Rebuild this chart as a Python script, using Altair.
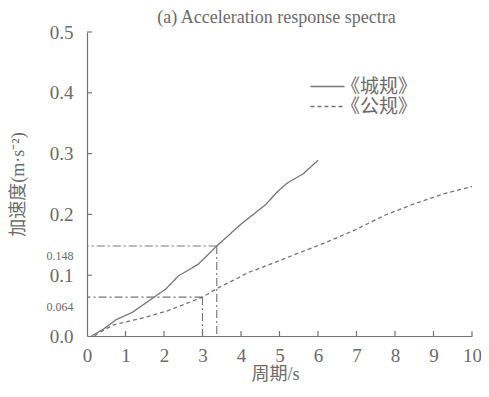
import altair as alt
import pandas as pd

FONT = "Liberation Serif, Noto Sans CJK SC"
GRAY = "#747474"
TXT = "#6a6a6a"

names = ["《城规》", "《公规》"]

# 《城规》 curve
T_city = [0.12, 0.2, 0.42, 0.76, 1.18, 1.70, 2.04, 2.38, 2.89, 3.37, 4.0, 4.64, 4.94, 5.19, 5.62, 6.0]
A_city = [0.0, 0.003, 0.011, 0.027, 0.039, 0.062, 0.077, 0.099, 0.118, 0.148, 0.184, 0.216, 0.237, 0.251, 0.267, 0.289]
# 《公规》 curve
T_hwy = [0.2, 0.25, 0.67, 1.53, 2.12, 3.0, 3.40, 3.91, 4.17, 5.0, 5.6, 6.21, 6.98, 7.75, 8.52, 9.28, 10.0]
A_hwy = [0.0, 0.003, 0.018, 0.031, 0.042, 0.064, 0.079, 0.095, 0.104, 0.124, 0.139, 0.154, 0.175, 0.199, 0.218, 0.234, 0.246]

# marked reference values
ref_T = [3.37, 3.0]
ref_A = [0.148, 0.064]

y_ticks = [0.1, 0.2, 0.3, 0.4, 0.5]
x_ticks = [1, 2, 3, 4, 5, 6, 7, 8, 9, 10]
y_axis_values = [0.0, 0.064, 0.1, 0.148, 0.2, 0.3, 0.4, 0.5]
x_axis_values = [0, 1, 2, 3, 4, 5, 6, 7, 8, 9, 10]

W, H = 385, 304

curves = pd.DataFrame({
    "T": T_city + T_hwy,
    "A": A_city + A_hwy,
    "series": [names[0]] * len(T_city) + [names[1]] * len(T_hwy),
})
refs = pd.DataFrame({"T": ref_T, "A": ref_A})

small = "datum.value == 0.148 || datum.value == 0.064"

yaxis = alt.Axis(
    values=y_axis_values, ticks=False, grid=False,
    domainColor=GRAY, domainWidth=1.2,
    labelExpr="datum.value == 0.148 ? '0.148' : datum.value == 0.064 ? '0.064' : format(datum.value, '.1f')",
    labelFontSize={"condition": {"test": small, "value": 12}, "value": 19},
    labelOffset={"condition": {"test": small, "value": 9}, "value": 0},
    labelPadding=14, labelFont=FONT, labelColor=TXT, labelOverlap=False,
    title="加速度(m·s⁻²)", titleFont=FONT, titleFontSize=18, titleFontWeight="normal",
    titleColor=TXT, titleX=-60, titleY=H / 2, titleAngle=270, titleAlign="center",
    titleBaseline="bottom",
)
xaxis = alt.Axis(
    values=x_axis_values, ticks=False, grid=False, format="d",
    domainColor=GRAY, domainWidth=1.2,
    labelFontSize=19, labelPadding=10, labelFont=FONT, labelColor=TXT,
    labelFlush=False, labelOverlap=False,
    title="周期/s", titleFont=FONT, titleFontSize=18, titleFontWeight="normal",
    titleColor=TXT, titleX=188, titleY=29, titleBaseline="top", titleAlign="center",
)

xs = alt.Scale(domain=[0, 10], nice=False)
ys = alt.Scale(domain=[0, 0.5], nice=False)


def X(field="T:Q"):
    return alt.X(field, scale=xs, axis=xaxis)


def Y(field="A:Q"):
    return alt.Y(field, scale=ys, axis=yaxis)


lines = alt.Chart(curves).mark_line(color=GRAY, strokeWidth=1.3).encode(
    x=X(),
    y=Y(),
    strokeDash=alt.StrokeDash(
        "series:N",
        scale=alt.Scale(domain=names, range=[[1, 0], [4, 3]]),
        legend=alt.Legend(
            title=None, orient="none", legendX=231, legendY=45,
            symbolType="M-2,0H2", symbolSize=289, symbolStrokeColor=GRAY,
            symbolFillColor="transparent",
            symbolStrokeWidth=1.3, labelFont=FONT, labelFontSize=19,
            labelColor=TXT, rowPadding=0, padding=0, labelOffset=4,
        ),
    ),
)

href = alt.Chart(refs).mark_rule(color=GRAY, strokeWidth=1.1, strokeDash=[8, 3, 2, 3]).encode(
    x=X(), x2=alt.value(0), y=Y(),
)
vref = alt.Chart(refs).mark_rule(color=GRAY, strokeWidth=1.1, strokeDash=[8, 3, 2, 3]).encode(
    x=X(), y=Y(), y2=alt.value(H),
)

yt = alt.Chart(pd.DataFrame({"A": y_ticks})).mark_rule(color=GRAY, strokeWidth=1.2).encode(
    x=alt.value(0), x2=alt.value(5), y=Y(),
)
xt = alt.Chart(pd.DataFrame({"T": x_ticks})).mark_rule(color=GRAY, strokeWidth=1.2).encode(
    x=X(), y=alt.value(H), y2=alt.value(H - 5),
)

chart = alt.layer(lines, href, vref, yt, xt).properties(
    width=W, height=H,
    padding={"left": 79, "top": 24, "right": 9, "bottom": 53},
    autosize=alt.AutoSizeParams(type="none"),
    title=alt.Title("(a) Acceleration response spectra", font=FONT, fontSize=18,
                    fontWeight="normal", color=TXT, anchor="middle", frame="group",
                    baseline="alphabetic", offset=-7, dx=-3, dy=11),
).configure_view(stroke=None).configure_axis(labelFont=FONT, titleFont=FONT)

chart.save("out.html", embed_options={"renderer": "svg", "actions": False})
